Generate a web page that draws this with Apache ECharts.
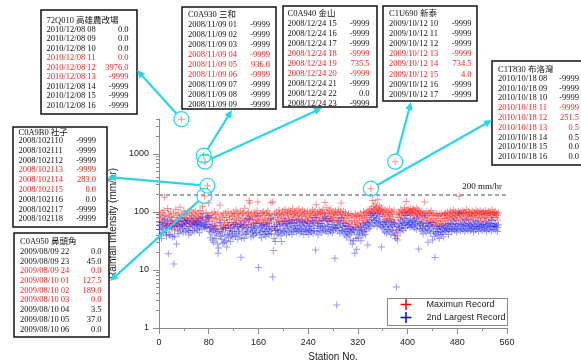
<!DOCTYPE html>
<html><head><meta charset="utf-8">
<script src="https://cdn.jsdelivr.net/npm/echarts@6/dist/echarts.min.js"></script>
<style>html,body{margin:0;padding:0;background:#fff}#c{width:581px;height:360px}</style>
</head><body><div id="c"></div>
<script>
// ---------- data ----------
const seriesNames = ['Maximun Record', '2nd Largest Record'];
const redMax = [
66,91,78,55,98,70,82,106,180,87,63,58,75,115,92,61,84,57,101,80,
72,64,94,59,49,81,110,62,88,70,96,57,79,121,68,3976,90,76,60,104,
80,95,65,88,72,100,69,56,93,78,62,108,85,70,97,76,64,89,103,73,
84,66,95,77,61,106,80,92,71,126,94,936,189,735.5,79,99,74,283,86,143,
68,87,55,76,95,62,81,50,100,69,90,58,77,53,96,46,75,130,64,89,
57,82,51,93,71,60,97,54,80,66,102,59,86,74,52,94,65,84,60,99,
76,92,62,108,72,95,56,81,89,64,103,70,60,94,78,97,57,116,73,88,
65,93,77,100,158,143,84,60,96,71,82,63,99,88,66,92,74,105,149,69,
85,63,94,73,58,97,79,101,66,89,75,61,96,71,105,87,64,93,78,144,
67,90,149,74,56,95,48,80,100,65,88,72,108,94,62,82,90,68,103,77,
97,73,111,86,64,99,91,76,107,70,94,102,81,66,112,90,74,100,85,96,
72,106,88,78,113,93,68,99,84,73,108,91,66,101,86,75,95,70,104,82,
64,93,79,100,72,88,109,68,95,80,102,86,133,73,97,63,90,107,76,94,
101,71,92,110,78,96,145,85,73,118,99,69,93,106,84,77,112,91,70,100,
81,95,72,104,88,66,98,78,109,90,70,101,143,79,93,72,103,86,63,97,
78,58,87,68,94,64,82,52,90,71,61,86,50,79,67,93,56,84,65,89,
60,83,71,96,54,87,76,63,101,79,92,66,97,81,104,70,99,88,110,94,
251.5,116,102,158,126,97,111,137,106,121,92,163,114,101,128,108,96,117,90,105,
84,100,75,109,92,70,104,86,98,77,113,90,68,101,83,96,73,107,65,734.5,
42,48,90,39,80,100,93,74,110,95,86,104,79,98,118,102,88,152,106,94,
111,97,104,89,116,100,92,109,96,113,86,105,99,81,117,94,108,90,102,84,
97,75,104,88,68,95,149,80,93,72,101,85,64,94,78,98,70,105,88,66,
92,76,60,86,67,95,71,89,62,84,56,92,76,64,94,69,87,60,91,78,
96,72,88,100,79,63,94,82,104,89,74,98,83,108,92,77,100,87,71,96,
81,102,187,90,74,98,86,106,78,94,100,73,96,84,110,91,76,101,88,97,
74,95,83,104,88,70,98,92,79,108,94,85,102,72,96,89,105,80,93,99,
77,101,90,82,106,94,72,97,87,103,79,95,100,89,74,109,92,81,98,91,
102,80,95,87,73,97
];
const blue2nd = [
50,60,42,35,66,52,44,62,75,55,45,39,58,70,19,41,54,40,68,56,
51,37,63,12.7,38,55,66,28,58,47,69,42,56,77,49,62,60,52,44,72,
57,70,46,63,51,73,48,40,65,55,44,79,60,48,67,58,47,62,71,52,
60,49,68,56,44,76,59,64,51,82,66,58,53,62,56,70,54,84,61,80,
46,52,36,44,56,33,48,30,58,40,51,35,45,28,19.5,24,42,66,38,50,
34,45,29,54,30,39,52,32,25,41,58,36,48,43,31,55,39,46,37,60,
45,53,38,65,42,56,34,47,51,40,61,16.6,36,54,45,58,35,70,43,51,
41,54,46,60,78,74,49,37,55,44,47,39,58,52,42,54,44,63,85,11,
49,40,55,45,36,58,47,61,41,52,46,38,57,43,64,50,41,55,47,76,
42,52,7.6,21.6,35,56,31,48,60,41,50,45,68,57,39,49,31,43,62,47,
59,45,70,52,40,62,55,47,68,44,57,64,49,41,72,54,46,63,51,58,
45,66,52,48,73,57,43,60,50,46,69,55,41,64,51,47,58,45,67,49,
41,56,48,62,45,52,70,43,57,48,65,22.2,80,46,59,40,53,68,47,56,
63,44,55,71,48,58,82,51,46,76,60,43,56,68,50,47,72,54,44,61,
49,57,16,53,52,2.5,59,47,70,54,43,62,80,48,56,45,65,51,40,58,
46,37,50,42,56,40,47,33,53,44,28,49,32,45,19.5,54,35,22.7,41,51,
36,48,43,57,32,50,45,39,62,46,54,41,58,49,66,27,60,52,70,56,
88,74,64,93,80,59,71,86,66,77,56,96,70,62,83,68,58,25,54,65,
51,61,45,69,56,43,65,50,59,47,73,54,41,62,49,57,45,67,39,60,
35,5.1,56,33,50,63,54,45,70,58,52,65,48,60,76,64,53,88,67,58,
72,61,66,54,76,62,56,70,59,73,53,67,62,50,78,58,69,23,63,52,
60,47,65,53,42,58,86,49,56,45,64,51,30,57,48,60,43,66,53,33,
56,46,38,16.4,43,58,45,52,40,50,35,55,46,41,57,44,51,37,54,48,
59,46,52,62,49,41,57,50,64,53,46,61,51,70,56,48,62,52,45,59,
50,63,95,55,47,61,52,67,49,57,62,46,59,51,72,56,48,63,53,60,
47,58,51,65,53,45,61,56,49,70,56,52,64,46,59,54,67,50,57,61,
48,62,55,51,68,57,46,60,53,65,49,58,63,55,47,71,56,50,60,56,
63,49,58,54,46,60
];
const yTicks = [1, 10, 100, 1000];
const yMinorTicks = [2,3,4,5,6,7,8,9,20,30,40,50,60,70,80,90,200,300,400,500,600,700,800,900,2000,3000,4000];
const threshold = 200;
const thresholdLabel = '200 mm/hr';

// annotated extreme records (station numbers refer to the data above)
const noteStations = [36, 72, 74, 380, 341, 78, 73];
const noteTitles = ['72Q010 高雄農改場', 'C0A930 三和', 'C0A940 金山', 'C1U690 新泰', 'C1T830 布洛灣', 'C0A9B0 社子', 'C0A950 鼻頭角'];
const noteTimes = [
  ['2010/12/08 08','2010/12/08 09','2010/12/08 10','2010/12/08 11','2010/12/08 12','2010/12/08 13','2010/12/08 14','2010/12/08 15','2010/12/08 16'],
  ['2008/11/09 01','2008/11/09 02','2008/11/09 03','2008/11/09 04','2008/11/09 05','2008/11/09 06','2008/11/09 07','2008/11/09 08','2008/11/09 09'],
  ['2008/12/24 15','2008/12/24 16','2008/12/24 17','2008/12/24 18','2008/12/24 19','2008/12/24 20','2008/12/24 21','2008/12/24 22','2008/12/24 23'],
  ['2009/10/12 10','2009/10/12 11','2009/10/12 12','2009/10/12 13','2009/10/12 14','2009/10/12 15','2009/10/12 16','2009/10/12 17'],
  ['2010/10/18 08','2010/10/18 09','2010/10/18 10','2010/10/18 11','2010/10/18 12','2010/10/18 13','2010/10/18 14','2010/10/18 15','2010/10/18 16'],
  ['2008/102110','2008/102111','2008/102112','2008/102113','2008/102114','2008/102115','2008/102116','2008/102117','2008/102118'],
  ['2009/08/09 22','2009/08/09 23','2009/08/09 24','2009/08/10 01','2009/08/10 02','2009/08/10 03','2009/08/10 04','2009/08/10 05','2009/08/10 06']
];
const noteValues = [
  ['0.0','0.0','0.0','0.0','3976.0','-9999','-9999','-9999','-9999'],
  ['-9999','-9999','-9999','-9999','936.0','-9999','-9999','-9999','-9999'],
  ['-9999','-9999','-9999','-9999','735.5','-9999','-9999','0.0','-9999'],
  ['-9999','-9999','-9999','-9999','734.5','4.0','-9999','-9999'],
  ['-9999','-9999','-9999','-9999','251.5','0.5','0.5','0.0','0.0'],
  ['-9999','-9999','-9999','-9999','283.0','0.0','0.0','-9999','-9999'],
  ['0.0','45.0','0.0','127.5','189.0','0.0','3.5','37.0','0.0']
];
const noteRedRows = [[3,4,5],[3,4,5],[3,4,5],[3,4,5],[3,4,5],[3,4,5],[2,3,4,5]];

// ---------- layout / style ----------
const noteLayout = [
  {x:41, y:10, w:96, h:104, ty:20.5, r0:29.5, step:9.5, tx:46.5, vx:128.5, tip:[137,70]},
  {x:182, y:7, w:94, h:102, ty:14.5, r0:24.3, step:10, tx:188, vx:270, tip:[232,110]},
  {x:283, y:6, w:94, h:101, ty:13.3, r0:23.3, step:10.1, tx:287.5, vx:369.5, tip:[322,108]},
  {x:383, y:6, w:94, h:95, ty:13.3, r0:23.3, step:10.2, tx:389, vx:471.5, tip:[411,102]},
  {x:492, y:61, w:95, h:104, ty:70, r0:78.5, step:9.8, tx:498, vx:579, tip:[492,120]},
  {x:13, y:127, w:94, h:100, ty:132.5, r0:140.7, step:9.8, tx:18.5, vx:96, tip:[108,177]},
  {x:14, y:233, w:95, h:104, ty:241.7, r0:251.7, step:9.7, tx:20, vx:101.5, tip:[110,281]}
];
const CYAN = '#2ad6ea';
const SERIF = '"Liberation Serif", "Noto Sans CJK TC", serif';
const SANS = '"Liberation Sans", Arial, sans-serif';
const PLUS = 'path://M3,0H4V3H7V4H4V7H3V4H0V3H3Z';
const PLUS_LEG = 'path://M9.5,0H12.5V9.5H22V12.5H12.5V22H9.5V12.5H0V9.5H9.5Z';

const chart = echarts.init(document.getElementById('c'), null, {renderer:'canvas'});
const redData = redMax.map((v, i) => [i + 1, v]);
const blueData = blue2nd.map((v, i) => [i + 1, v]);
const axisCol = '#8a8a8a';

chart.setOption({
  animation: false,
  backgroundColor: '#fff',
  grid: {left: 159, right: 74, top: 119, bottom: 32, outerBoundsMode: 'none'},
  xAxis: {
    type: 'value', min: 0, max: 560, interval: 80,
    axisLine: {onZero: false, lineStyle: {color: axisCol, width: 1}},
    axisTick: {length: 6, lineStyle: {color: axisCol}},
    minorTick: {show: true, splitNumber: 2, length: 3, lineStyle: {color: axisCol}},
    axisLabel: {fontSize: 9, color: '#222', margin: 10, fontFamily: SANS},
    splitLine: {show: false},
    name: 'Station No.', nameLocation: 'middle', nameGap: 18,
    nameTextStyle: {fontSize: 10, color: '#222', fontFamily: SANS}
  },
  yAxis: [{
    type: 'log', logBase: 10, min: 1, max: 4000,
    position: 'left',
    axisLine: {show: true, lineStyle: {color: axisCol, width: 1}},
    axisTick: {show: true, length: 6, customValues: yTicks, lineStyle: {color: axisCol}},
    axisLabel: {customValues: yTicks, fontSize: 9, color: '#222', margin: 10, fontFamily: SANS,
      formatter: v => String(Math.round(v))},
    splitLine: {show: false},
    name: 'Rainfall Intensity (mm/hr)', nameLocation: 'middle', nameGap: 34,
    nameTextStyle: {fontSize: 10, color: '#222', fontFamily: SANS}
  }, {
    type: 'log', logBase: 10, min: 1, max: 4000, position: 'left',
    axisLine: {show: false},
    axisTick: {show: true, length: 3, customValues: yMinorTicks, lineStyle: {color: axisCol}},
    axisLabel: {show: false}, splitLine: {show: false}
  }],
  legend: {
    orient: 'vertical', left: 400.5, top: 299, padding: 0, itemGap: 2,
    itemWidth: 11, itemHeight: 11, z: 10,
    textStyle: {fontSize: 9, color: '#222', fontFamily: SANS, padding: [0, 0, 0, 10]},
    data: [
      {name: seriesNames[0], icon: PLUS_LEG, itemStyle: {color: '#ff0000', opacity: 1}},
      {name: seriesNames[1], icon: PLUS_LEG, itemStyle: {color: '#0000ff', opacity: 1}}
    ]
  },
  series: [{
    name: seriesNames[0], type: 'scatter', data: redData, symbol: PLUS, symbolSize: 7,
    itemStyle: {color: 'rgba(255,0,0,0.55)'}, z: 2,
    markLine: {
      silent: true, symbol: ['none','none'], label: {show: false},
      lineStyle: {type: [4,3], color: '#888', width: 1.5},
      data: [{yAxis: threshold}]
    }
  }, {
    name: seriesNames[1], type: 'scatter', data: blueData, symbol: PLUS, symbolSize: 7,
    itemStyle: {color: 'rgba(0,0,255,0.5)'}, z: 3
  }]
});

function px(x, y) { return chart.convertToPixel({xAxisIndex: 0, yAxisIndex: 0}, [x, y]); }

const g = [];
// legend frame
g.push({type: 'rect', z: 9, shape: {x: 387.5, y: 298.5, width: 120, height: 27},
  style: {fill: '#fff', stroke: '#888', lineWidth: 1}});
// threshold label
const pt = px(560, threshold);
g.push({type: 'text', z: 20, x: pt[0] - 5, y: pt[1] - 7.5,
  style: {text: thresholdLabel, fill: '#111', fontSize: 9, fontFamily: SERIF, align: 'right', verticalAlign: 'middle'}});

noteStations.forEach((st, k) => {
  const L = noteLayout[k];
  const c = px(st, redMax[st - 1]);
  // box
  g.push({type: 'rect', z: 50, shape: {x: L.x, y: L.y, width: L.w, height: L.h},
    style: {fill: '#fff', stroke: '#111', lineWidth: 1.5}});
  g.push({type: 'text', z: 51, x: L.tx, y: L.ty,
    style: {text: noteTitles[k], fill: '#111', fontSize: 8.5, fontFamily: SERIF, align: 'left', verticalAlign: 'middle'}});
  noteTimes[k].forEach((t, i) => {
    const col = noteRedRows[k].indexOf(i) >= 0 ? '#ff1a1a' : '#111';
    const yy = L.r0 + i * L.step;
    g.push({type: 'text', z: 51, x: L.tx, y: yy,
      style: {text: t, fill: col, fontSize: 8.5, fontFamily: SERIF, align: 'left', verticalAlign: 'middle'}});
    g.push({type: 'text', z: 51, x: L.vx, y: yy,
      style: {text: noteValues[k][i], fill: col, fontSize: 8.5, fontFamily: SERIF, align: 'right', verticalAlign: 'middle'}});
  });
  // circle, connector and arrow head
  const R = 7.5, AL = 8, AW = 3.8;
  const dx = L.tip[0] - c[0], dy = L.tip[1] - c[1];
  const len = Math.sqrt(dx * dx + dy * dy);
  const ux = dx / len, uy = dy / len, nx = -uy, ny = ux;
  g.push({type: 'circle', z: 60, shape: {cx: c[0], cy: c[1], r: R},
    style: {fill: null, stroke: CYAN, lineWidth: 1.2}});
  const bx = L.tip[0] - ux * AL, by = L.tip[1] - uy * AL;
  g.push({type: 'line', z: 60, shape: {x1: c[0] + ux * R, y1: c[1] + uy * R, x2: bx + ux * 1, y2: by + uy * 1},
    style: {stroke: CYAN, lineWidth: 2.2}});
  g.push({type: 'polygon', z: 60, shape: {points: [[L.tip[0], L.tip[1]], [bx + nx * AW, by + ny * AW], [bx - nx * AW, by - ny * AW]]},
    style: {fill: CYAN}});
});

chart.setOption({graphic: {elements: g}});
</script>
</body></html>
